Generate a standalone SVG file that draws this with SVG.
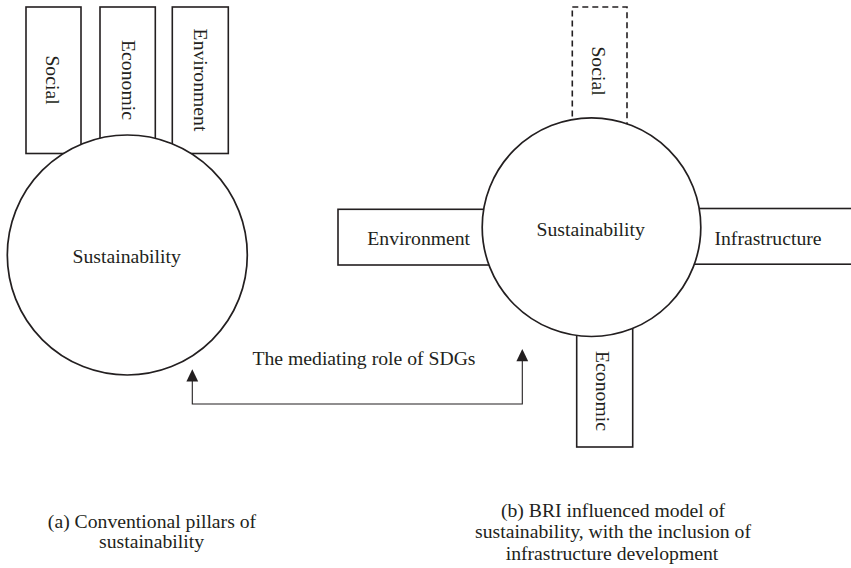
<svg xmlns="http://www.w3.org/2000/svg" width="851" height="568" viewBox="0 0 851 568">
  <defs>
    <style>
      .box { fill: #ffffff; stroke: #231f20; stroke-width: 1.6; }
      .dashed { fill: #ffffff; stroke: #231f20; stroke-width: 1.6; stroke-dasharray: 6 4; }
      .hub { fill: #ffffff; stroke: #231f20; stroke-width: 1.7; }
      .lbl { font-family: "Liberation Serif", "Times New Roman", serif; font-size: 19.7px; fill: #231f20; text-anchor: middle; }
      .wire { fill: none; stroke: #231f20; stroke-width: 1.1; }
      .head { fill: #231f20; }
    </style>
  </defs>
  <rect width="851" height="568" fill="#ffffff"/>

  <!-- (a) conventional pillars -->
  <g id="a-social">
    <rect class="box" x="26" y="7" width="55" height="146.5"/>
    <text class="lbl" transform="translate(45.5,80) rotate(90)">Social</text>
  </g>
  <g id="a-economic">
    <rect class="box" x="100" y="7" width="55.3" height="146.5"/>
    <text class="lbl" transform="translate(122,80) rotate(90)">Economic</text>
  </g>
  <g id="a-environment">
    <rect class="box" x="172.3" y="7" width="56" height="146.5"/>
    <text class="lbl" transform="translate(194,80) rotate(90)">Environment</text>
  </g>
  <g id="a-sustainability">
    <circle class="hub" cx="127.3" cy="255" r="120"/>
    <text class="lbl" x="126.7" y="263">Sustainability</text>
  </g>

  <!-- (b) BRI influenced model -->
  <g id="b-social">
    <rect class="dashed" x="572.3" y="7" width="54.7" height="140"/>
    <text class="lbl" transform="translate(591.5,71) rotate(90)">Social</text>
  </g>
  <g id="b-environment">
    <rect class="box" x="338" y="209.3" width="190" height="55.7"/>
    <text class="lbl" x="418.7" y="245">Environment</text>
  </g>
  <g id="b-infrastructure">
    <rect class="box" x="660" y="208.5" width="200" height="55.7"/>
    <text class="lbl" x="768" y="245">Infrastructure</text>
  </g>
  <g id="b-economic">
    <rect class="box" x="576.7" y="300" width="56" height="147"/>
    <text class="lbl" transform="translate(595.5,391) rotate(90)">Economic</text>
  </g>
  <g id="b-sustainability">
    <circle class="hub" cx="591.5" cy="227.2" r="109.3"/>
    <text class="lbl" x="590.7" y="236">Sustainability</text>
  </g>

  <!-- mediating link between the two models -->
  <g id="connectors">
    <polyline class="wire" points="192.3,381 192.3,404 522.3,404 522.3,361"/>
    <path class="head" d="M192.3,369.3 L198.2,381.5 L186.4,381.5 Z"/>
    <path class="head" d="M522.3,349 L528.2,361.2 L516.4,361.2 Z"/>
  </g>
  <text class="lbl" x="364" y="365">The mediating role of SDGs</text>

  <!-- captions -->
  <g id="caption-a">
    <text class="lbl" x="152" y="527.5">(a) Conventional pillars of</text>
    <text class="lbl" x="151.5" y="548">sustainability</text>
  </g>
  <g id="caption-b">
    <text class="lbl" x="613" y="516.5">(b) BRI influenced model of</text>
    <text class="lbl" x="613" y="538">sustainability, with the inclusion of</text>
    <text class="lbl" x="612" y="559.5">infrastructure development</text>
  </g>
</svg>
